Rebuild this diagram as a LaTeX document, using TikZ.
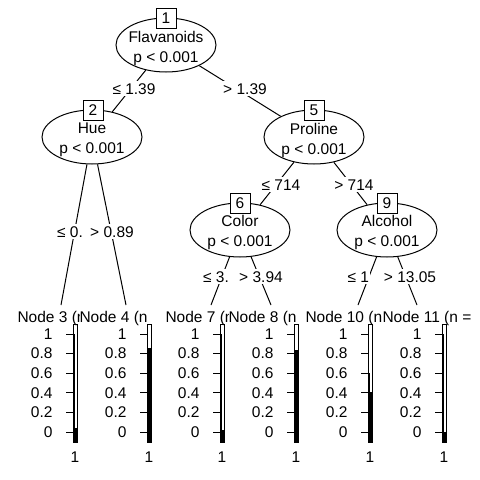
\documentclass[tikz,border=0pt]{standalone}
\usepackage{fontspec}
\setmainfont{Liberation Sans}
\usetikzlibrary{shapes.geometric}

\begin{document}
\begin{tikzpicture}[x=1pt, y=-1pt, line width=1pt,
  every node/.style={font=\fontsize{15.5}{20}\selectfont},
  inner/.style={draw, ellipse, fill=white, minimum width=100pt, minimum height=54pt, inner sep=0pt},
  innertext/.style={align=center, inner sep=0pt},
  idbox/.style={draw, fill=white, minimum size=20pt, inner sep=0pt},
  elabel/.style={fill=white, inner xsep=1pt, inner ysep=2pt, anchor=base},
  header/.style={anchor=base west, inner sep=0pt},
  ticklab/.style={anchor=east, inner sep=0pt},
]
  \useasboundingbox (0,0) rectangle (480,480);

  % inner nodes
  \node[inner] (n1) at (166,45) {};
  \node[inner] (n2) at (92,137) {};
  \node[inner] (n5) at (314,137) {};
  \node[inner] (n6) at (240,230) {};
  \node[inner] (n9) at (387,230) {};
  \node[innertext] (l1) at (166,48) {Flavanoids\\p < 0.001};
  \node[innertext] (l2) at (92,140) {Hue\\p < 0.001};
  \node[innertext] (l5) at (314,140) {Proline\\p < 0.001};
  \node[innertext] (l6) at (240,232) {Color\\p < 0.001};
  \node[innertext] (l9) at (387,232) {Alcohol\\p < 0.001};
  \node[idbox] (b1) at (166,18) {1};
  \node[idbox] (b2) at (93,110) {2};
  \node[idbox] (b5) at (314,110) {5};
  \node[idbox] (b6) at (240,203) {6};
  \node[idbox] (b9) at (387,203) {9};

  % tops of the terminal panels
  \coordinate (t3) at (61,305);
  \coordinate (t4) at (126,305);
  \coordinate (t7) at (211,305);
  \coordinate (t8) at (271,305);
  \coordinate (t10) at (358,305);
  \coordinate (t11) at (417,305);

  \draw (n1) -- (n2);
  \draw (n1) -- (n5);
  \draw (n2) -- (t3);
  \draw (n2) -- (t4);
  \draw (n5) -- (n6);
  \draw (n5) -- (n9);
  \draw (n6) -- (t7);
  \draw (n6) -- (t8);
  \draw (n9) -- (t10);
  \draw (n9) -- (t11);

  % split labels
  \node[elabel] (e2) at (134,94) {≤ 1.39};
  \node[elabel] (e5) at (245,94) {> 1.39};
  \node[elabel] (e3) at (70,237) {≤ 0.};
  \node[elabel] (e4) at (112,237) {> 0.89};
  \node[elabel] (e6) at (281,190) {≤ 714};
  \node[elabel] (e9) at (354,190) {> 714};
  \node[elabel] (e7) at (216,282) {≤ 3.};
  \node[elabel] (e8) at (261,282) {> 3.94};
  \node[elabel, anchor=base west] (e10) at (346,282) {≤ 1};
  \node[elabel] (e11) at (410,282) {> 13.05};

  % terminal panels
  \foreach \id/\xa/\xb/\txt in {3/17/79/{Node 3 (n}, 4/79/165/{Node 4 (n}, 7/165/228/{Node 7 (n},
      8/228/305/{Node 8 (n}, 10/305/382/{Node 10 (n}, 11/382/480/{Node 11 (n =}} {
    \begin{scope}
      \clip (\xa,298) rectangle (\xb,328);
      \node[header] (h\id) at (\xa,322) {\txt};
    \end{scope}
  }
  \foreach \id/\L/\a/\b in {3/73/334/428, 4/147/348/348, 7/220/334/430,
      8/294/350/350, 10/368/373/392, 11/442/334/432} {
    \foreach \v/\y [count=\k] in {1/334, 0.8/353.6, 0.6/373.2, 0.4/392.8, 0.2/412.4, 0/432} {
      \draw (\L-7,\y) -- (\L,\y);
      \node[ticklab] (y\id-\k) at (\L-20,\y) {\v};
    }
    \fill (\L,\a) rectangle (\L+2,\b);
    \fill (\L,\b) rectangle (\L+4,442);
    \draw (\L,324) rectangle (\L+4,442);
    \node (x\id) at (\L+2,457) {1};
  }
\end{tikzpicture}
\end{document}
